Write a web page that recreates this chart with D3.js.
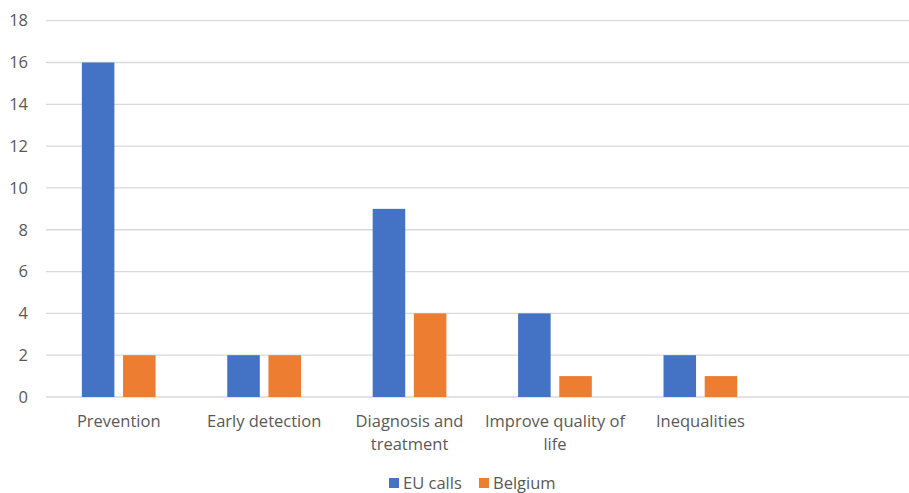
<!DOCTYPE html>
<html>
<head>
<meta charset="utf-8">
<script src="https://cdn.jsdelivr.net/npm/d3@7"></script>
<style>
  html, body { margin: 0; padding: 0; background: #fff; }
  svg { display: block; font-family: "Open Sans", "Noto Sans", sans-serif; }
</style>
</head>
<body>
<svg id="chart" width="909" height="493"></svg>
<script>
// Categories (the trailing empty slot keeps the axis spacing of the original workbook)
const categories = ["Prevention", "Early detection", "Diagnosis and treatment", "Improve quality of life", "Inequalities", ""];
const seriesNames = ["EU calls", "Belgium"];
const euCalls = [16, 2, 9, 4, 2, null];
const belgium = [2, 2, 4, 1, 1, null];
const yTicks = [0, 2, 4, 6, 8, 10, 12, 14, 16, 18];
const colors = ["#4472C4", "#ED7D31"];

const svg = d3.select("#chart");
const plotLeft = 46, plotRight = 918.5, plotTop = 20.7, plotBottom = 397;
const fontSize = 16.5;
const textColor = "#595959";

const x0 = d3.scaleBand().domain(categories).range([plotLeft, plotRight]).padding(0);
const x1 = d3.scaleBand().domain(seriesNames).range([0, x0.bandwidth()])
  .paddingInner(0.21).paddingOuter(0.87);
const y = d3.scaleLinear().domain([0, 18]).range([plotBottom, plotTop]);

// Horizontal gridlines
svg.append("g")
  .selectAll("line")
  .data(yTicks)
  .join("line")
  .attr("x1", plotLeft).attr("x2", plotRight)
  .attr("y1", d => y(d)).attr("y2", d => y(d))
  .attr("stroke", "#D9D9D9").attr("stroke-width", 1.3);

// Y axis labels
const yAxis = d3.axisLeft(y).tickValues(yTicks).tickSize(0).tickPadding(0);
const gy = svg.append("g").attr("transform", "translate(28,0)").call(yAxis);
gy.select(".domain").remove();
gy.selectAll("text").attr("fill", textColor).attr("font-size", fontSize)
  .attr("font-family", "'Open Sans', sans-serif");

// Bars
const seriesData = [euCalls, belgium];
const groups = svg.append("g")
  .selectAll("g")
  .data(categories)
  .join("g")
  .attr("transform", d => `translate(${x0(d)},0)`);

groups.selectAll("rect")
  .data((c, i) => seriesNames.map((s, k) => ({ s, v: seriesData[k][i], k })).filter(d => d.v != null))
  .join("rect")
  .attr("x", d => x1(d.s))
  .attr("width", x1.bandwidth())
  .attr("y", d => y(d.v))
  .attr("height", d => y(0) - y(d.v))
  .attr("fill", d => colors[d.k]);

// Category labels, wrapped within the band width
const gx = svg.append("g");
categories.forEach(c => {
  if (!c) return;
  const words = c.split(" ");
  const lines = [];
  let line = "";
  const measurer = gx.append("text").attr("font-size", fontSize);
  words.forEach(w => {
    const test = line ? line + " " + w : w;
    measurer.text(test);
    if (measurer.node().getComputedTextLength() > 145 && line) {
      lines.push(line);
      line = w;
    } else {
      line = test;
    }
  });
  lines.push(line);
  measurer.remove();
  const cx = x0(c) + x0.bandwidth() / 2;
  const t = gx.append("text")
    .attr("x", cx)
    .attr("y", 427)
    .attr("text-anchor", "middle")
    .attr("fill", textColor)
    .attr("font-size", fontSize);
  lines.forEach((l, i) => {
    t.append("tspan").attr("x", cx).attr("dy", i === 0 ? 0 : 22.5).text(l);
  });
});

// Legend
const legend = svg.append("g");
const legendItems = [{ name: seriesNames[0], x: 389 }, { name: seriesNames[1], x: 479 }];
legendItems.forEach((d, i) => {
  legend.append("rect").attr("x", d.x).attr("y", 478).attr("width", 10).attr("height", 10).attr("fill", colors[i]);
  legend.append("text").attr("x", d.x + 14).attr("y", 489).attr("fill", textColor).attr("font-size", fontSize).text(d.name);
});
</script>
</body>
</html>
